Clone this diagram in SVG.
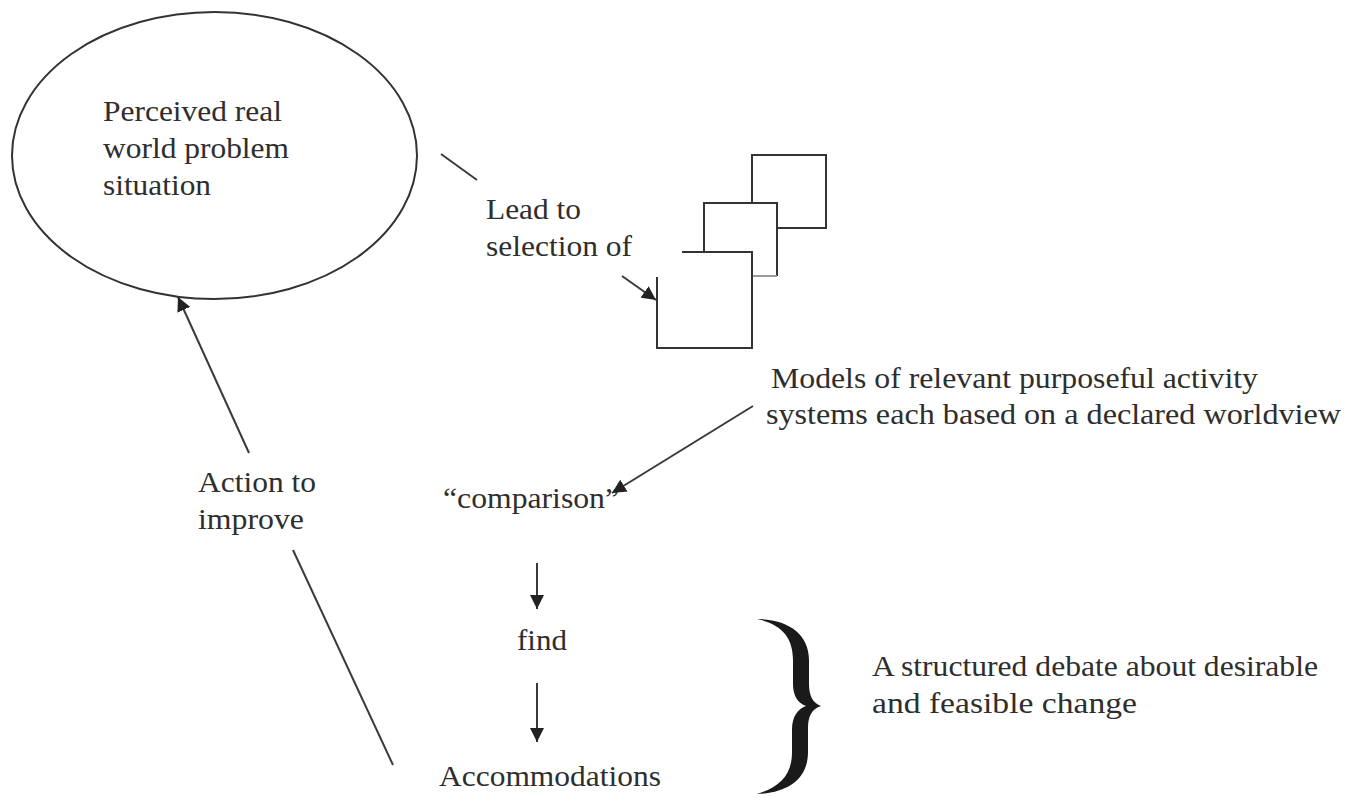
<svg xmlns="http://www.w3.org/2000/svg" width="1359" height="798" viewBox="0 0 1359 798">
  <style>
    .txt { font-family: "Liberation Serif", "Times New Roman", "DejaVu Serif", serif; font-size: 30px; fill: #2e2e2e; }
    .ln { stroke: #3a3a3a; stroke-width: 2; fill: none; }
    .shape { stroke: #333; stroke-width: 2; fill: none; }
  </style>
  <defs>
    <marker id="arrow" viewBox="0 0 10 10" refX="10" refY="5" markerWidth="7" markerHeight="7" markerUnits="strokeWidth" orient="auto">
      <path d="M0,0 L10,5 L0,10 z" fill="#222"/>
    </marker>
  </defs>
  <rect width="1359" height="798" fill="#ffffff"/>

  <g font-family="Liberation Serif, serif">
  <!-- Problem situation -->
  <g id="problem-situation">
    <ellipse class="shape" cx="214.5" cy="155.5" rx="202.5" ry="143.5"/>
    <text class="txt" x="103" y="121" textLength="179" lengthAdjust="spacingAndGlyphs">Perceived real</text>
    <text class="txt" x="103" y="158" textLength="186" lengthAdjust="spacingAndGlyphs">world problem</text>
    <text class="txt" x="103" y="195" textLength="108" lengthAdjust="spacingAndGlyphs">situation</text>
  </g>

  <!-- Selection label -->
  <g id="lead-to-selection">
    <text class="txt" x="486" y="219" textLength="95" lengthAdjust="spacingAndGlyphs">Lead to</text>
    <text class="txt" x="486" y="256" textLength="146" lengthAdjust="spacingAndGlyphs">selection of</text>
  </g>

  <!-- Stacked activity models -->
  <g id="models">
    <path class="shape" d="M752,203 L752,155 L826,155 L826,228 L777,228"/>
    <path class="shape" d="M704,252 L704,203 L777,203 L777,276"/>
    <path d="M752,276 L777,276" stroke="#9a9a9a" stroke-width="2" fill="none"/>
    <path class="shape" d="M682,252 L752,252 L752,348 L657,348 L657,277"/>
  </g>

  <g id="models-label">
    <text class="txt" x="771" y="388" textLength="487" lengthAdjust="spacingAndGlyphs">Models of relevant purposeful activity</text>
    <text class="txt" x="766" y="424" textLength="575" lengthAdjust="spacingAndGlyphs">systems each based on a declared worldview</text>
  </g>

  <g id="comparison">
    <text class="txt" x="443" y="508" textLength="176" lengthAdjust="spacingAndGlyphs">“comparison”</text>
  </g>

  <g id="find">
    <text class="txt" x="517" y="650" textLength="50" lengthAdjust="spacingAndGlyphs">find</text>
  </g>

  <g id="accommodations">
    <text class="txt" x="439" y="786" textLength="222" lengthAdjust="spacingAndGlyphs">Accommodations</text>
  </g>

  <g id="action-to-improve">
    <text class="txt" x="198" y="492" textLength="118" lengthAdjust="spacingAndGlyphs">Action to</text>
    <text class="txt" x="198" y="529" textLength="106" lengthAdjust="spacingAndGlyphs">improve</text>
  </g>

  <!-- Brace grouping the debate stages -->
  <g id="debate">
    <path d="M757,619 C788,619 809,634 809,660 L809,684 C809,696 813,703 821,706 C812,709 808,716 808,728 L808,752 C808,779 788,793 757,794 C780,787 792,775 792,752 L792,730 C792,716 798,709 806,706 C798,703 793,696 793,684 L793,660 C793,637 781,624 757,619 Z" fill="#1a1a1a"/>
    <text class="txt" x="872" y="676" textLength="446" lengthAdjust="spacingAndGlyphs">A structured debate about desirable</text>
    <text class="txt" x="872" y="713" textLength="265" lengthAdjust="spacingAndGlyphs">and feasible change</text>
  </g>
  </g>

  <!-- Connectors -->
  <g id="connectors">
    <line class="ln" x1="441" y1="154" x2="477" y2="180"/>
    <line class="ln" x1="622" y1="276" x2="656" y2="300" marker-end="url(#arrow)"/>
    <line class="ln" x1="753" y1="406" x2="612" y2="493" marker-end="url(#arrow)"/>
    <line class="ln" x1="537" y1="563" x2="537" y2="609" marker-end="url(#arrow)"/>
    <line class="ln" x1="537" y1="683" x2="537" y2="742" marker-end="url(#arrow)"/>
    <line class="ln" x1="249" y1="453" x2="178" y2="297" marker-end="url(#arrow)"/>
    <line class="ln" x1="293" y1="550" x2="393" y2="765"/>
  </g>
</svg>
